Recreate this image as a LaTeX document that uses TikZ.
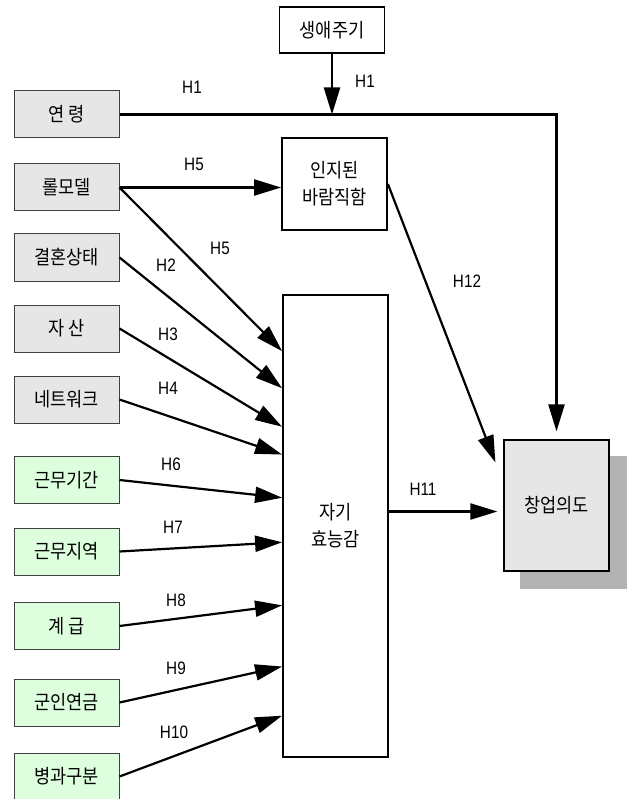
\documentclass[tikz,border=0pt]{standalone}
\usepackage{fontspec}
\setmainfont{Liberation Sans}[FakeStretch=0.85]
\newfontfamily\kr{Noto Sans CJK KR}[FakeStretch=0.9]
\usetikzlibrary{arrows.meta,calc,backgrounds}
\definecolor{boxgray}{HTML}{E6E6E6}
\definecolor{boxgreen}{HTML}{DDFFDD}
\definecolor{shadowgray}{HTML}{B3B3B3}
\begin{document}
\begin{tikzpicture}[x=1pt,y=-1pt,
  every node/.style={font=\kr\fontsize{19.5}{27}\selectfont, align=center, inner sep=0pt},
  leftbox/.style={draw=black!75, line width=1pt, minimum width=105pt, minimum height=47pt},
  graybox/.style={leftbox, fill=boxgray},
  greenbox/.style={leftbox, fill=boxgreen},
  mainbox/.style={draw=black, line width=1.8pt, fill=white, minimum width=105pt},
  link/.style={line width=2.2pt, -{Triangle[length=27pt,width=16pt]}},
  hlab/.style={font=\rmfamily\fontsize{18}{18}\selectfont}
]
\useasboundingbox (0,0) rectangle (627,799);

% left boxes
\node[graybox] (yr)  at (66.5,114.5) {연 령};
\node[graybox] (rm)  at (66.5,187.5) {롤모델};
\node[graybox] (mar) at (66.5,257.5) {결혼상태};
\node[graybox] (ast) at (66.5,328.5) {자 산};
\node[graybox] (net) at (66.5,399.5) {네트워크};
\node[greenbox] (prd) at (66.5,480) {근무기간};
\node[greenbox] (loc) at (66.5,551.5) {근무지역};
\node[greenbox] (rnk) at (66.5,626) {계 급};
\node[greenbox] (pen) at (66.5,702.5) {군인연금};
\node[greenbox] (brn) at (66.5,776.5) {병과구분};

% central boxes
\node[mainbox, minimum height=46pt] (lc) at (332,30) {생애주기};
\node[mainbox, minimum height=92pt] (pd) at (334.5,184) {인지된\\바람직함};
\node[mainbox, minimum height=462pt] (se) at (335.5,526) {자기\\효능감};

% goal box with shadow
\node[draw=black, line width=1.2pt, fill=boxgray, minimum width=105pt, minimum height=131pt] (goal) at (556.5,505.5) {창업의도};
\begin{scope}[on background layer]
  \fill[shadowgray] ($(goal.north west)+(17,17)$) rectangle ($(goal.south east)+(17,17)$);
\end{scope}

% connectors
\draw[link, shorten >=8pt] (yr.east) -| (goal.north);
\draw[link] (lc.south) -- (lc.south |- yr.east);
\draw[link] (rm.east) -- (rm.east -| pd.west);
\draw[link] (rm.east)  -- ($(se.north west)!0.123!(se.south west)$);
\draw[link] (mar.east) -- ($(se.north west)!0.203!(se.south west)$);
\draw[link] (ast.east) -- ($(se.north west)!0.286!(se.south west)$);
\draw[link] (net.east) -- ($(se.north west)!0.346!(se.south west)$);
\draw[link] (prd.east) -- ($(se.north west)!0.439!(se.south west)$);
\draw[link] (loc.east) -- ($(se.north west)!0.535!(se.south west)$);
\draw[link] (rnk.east) -- ($(se.north west)!0.671!(se.south west)$);
\draw[link] (pen.east) -- ($(se.north west)!0.803!(se.south west)$);
\draw[link] (brn.east) -- ($(se.north west)!0.909!(se.south west)$);
\coordinate (h12end) at ($(goal.north west)+(-8,23)$);
\draw[link] (pd.east) -- (h12end);
\draw[link, shorten >=6pt] ($(se.east |- goal.west)+(0,6)$) -- ($(goal.west)+(0,6)$);

% labels
\node[hlab] (t1a) at (192,87) {H1};
\node[hlab] (t1b) at (365,81) {H1};
\node[hlab] (t5a) at (194,164) {H5};
\node[hlab] (t5b) at (220,248) {H5};
\node[hlab] (t2)  at (166,265) {H2};
\node[hlab] (t12) at (467,281) {H12};
\node[hlab] (t3)  at (168,334) {H3};
\node[hlab] (t4)  at (168,388) {H4};
\node[hlab] (t6)  at (171,464) {H6};
\node[hlab] (t11) at (423,489) {H11};
\node[hlab] (t7)  at (173,527) {H7};
\node[hlab] (t8)  at (176,600) {H8};
\node[hlab] (t9)  at (176,668) {H9};
\node[hlab] (t10) at (174,732) {H10};
\end{tikzpicture}
\end{document}
